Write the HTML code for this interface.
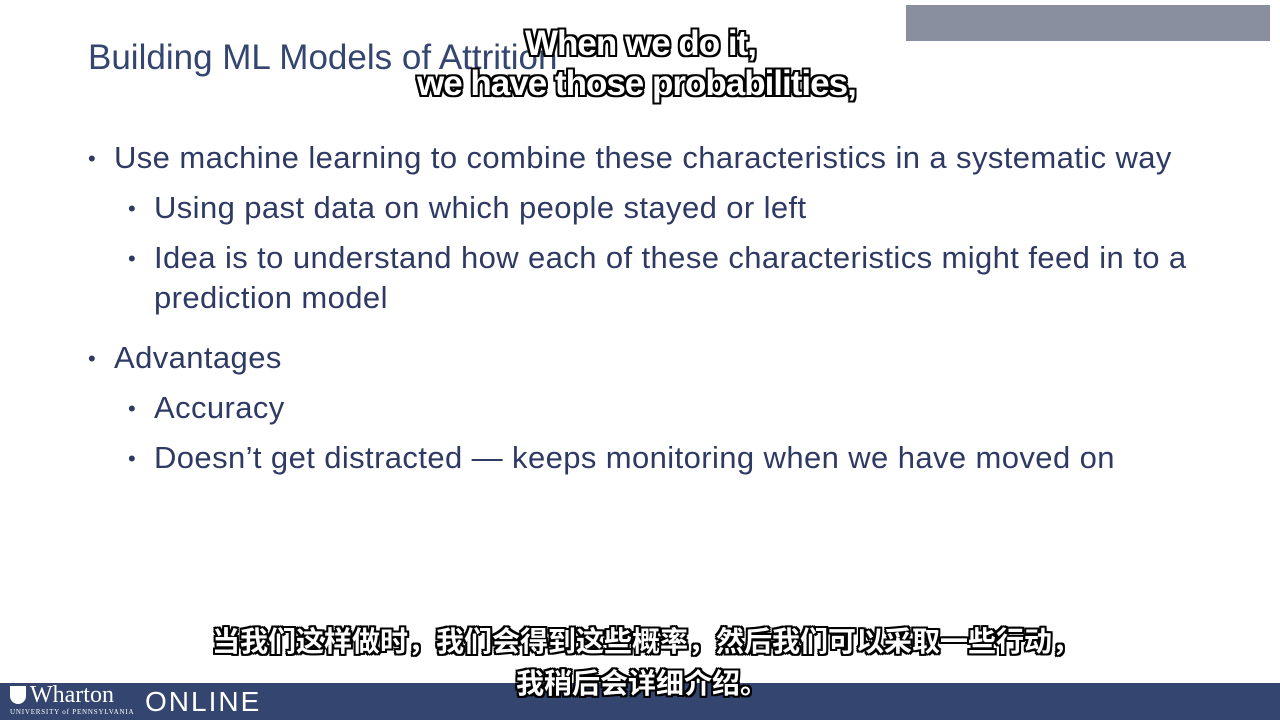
<!DOCTYPE html>
<html><head><meta charset="utf-8"><style>
body{margin:0;width:1280px;height:720px;position:relative;overflow:hidden;background:#fff;font-family:"Liberation Sans",Arial,sans-serif}
.t{position:absolute;left:88px;top:38px;font-size:35px;color:#34466f;white-space:nowrap}
.l{position:absolute;font-size:31px;letter-spacing:0.4px;color:#2e3a63;white-space:nowrap;line-height:40px}
.b{position:absolute;font-size:22px;color:#2e3a63}
.sub{position:absolute;color:#fff;font-weight:bold;white-space:nowrap;text-shadow:-2px -2px 0 #000,2px -2px 0 #000,-2px 2px 0 #000,2px 2px 0 #000,0 2px 0 #000,0 -2px 0 #000,2px 0 0 #000,-2px 0 0 #000}
</style></head><body>
<div style="position:absolute;left:906px;top:5px;width:364px;height:36px;background:#8a8fa0"></div>
<div class="t">Building ML Models of Attrition</div>
<div class="b" style="left:88px;top:146px">•</div>
<div class="l" style="left:114px;top:138px">Use machine learning to combine these characteristics in a systematic way</div>
<div class="b" style="left:128px;top:196px">•</div>
<div class="l" style="left:154px;top:188px">Using past data on which people stayed or left</div>
<div class="b" style="left:128px;top:246px">•</div>
<div class="l" style="left:154px;top:238px">Idea is to understand how each of these characteristics might feed in to a</div>
<div class="l" style="left:154px;top:278px">prediction model</div>
<div class="b" style="left:88px;top:346px">•</div>
<div class="l" style="left:114px;top:338px">Advantages</div>
<div class="b" style="left:128px;top:396px">•</div>
<div class="l" style="left:154px;top:388px">Accuracy</div>
<div class="b" style="left:128px;top:446px">•</div>
<div class="l" style="left:154px;top:438px">Doesn’t get distracted — keeps monitoring when we have moved on</div>
<div class="sub" style="left:525px;top:24px;font-size:35px;letter-spacing:-1px">When we do it,</div>
<div class="sub" style="left:417px;top:64px;font-size:35px;letter-spacing:-1px">we have those probabilities,</div>
<div style="position:absolute;left:0;top:683px;width:1280px;height:37px;background:#34466f"></div>
<div style="position:absolute;left:10px;top:686px;width:16px;height:18px;background:#fff;border-radius:0 0 8px 8px"></div>
<div style="position:absolute;left:30px;top:682px;font-family:'Liberation Serif',serif;font-size:24px;color:#fff">Wharton</div>
<div style="position:absolute;left:10px;top:708px;font-family:'Liberation Serif',serif;font-size:7px;color:#fff;letter-spacing:0.8px">UNIVERSITY of PENNSYLVANIA</div>
<div style="position:absolute;left:145px;top:686px;font-size:28px;color:#fff;letter-spacing:2px">ONLINE</div>
<div class="sub" style="left:212px;top:620px;font-size:28px;font-family:'Liberation Sans','Noto Sans CJK SC',sans-serif">当我们这样做时，我们会得到这些概率，然后我们可以采取一些行动，</div>
<div class="sub" style="left:516px;top:662px;font-size:28px;font-family:'Liberation Sans','Noto Sans CJK SC',sans-serif">我稍后会详细介绍。</div>
</body></html>
